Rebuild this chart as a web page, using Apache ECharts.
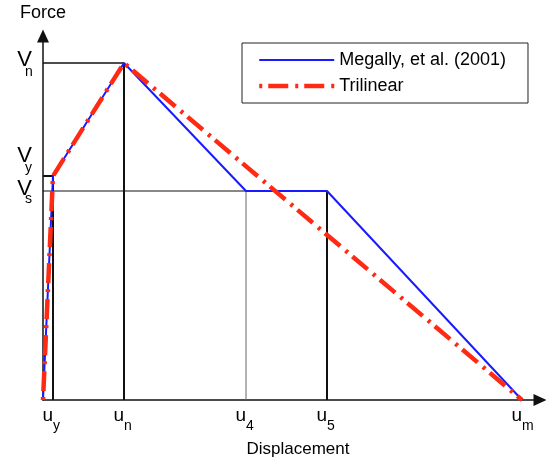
<!DOCTYPE html>
<html>
<head>
<meta charset="utf-8">
<script src="https://cdn.jsdelivr.net/npm/echarts@6/dist/echarts.min.js"></script>
<style>
  html, body { margin: 0; padding: 0; background: #ffffff; }
  #chart { width: 546px; height: 460px; }
</style>
</head>
<body>
<div id="chart"></div>
<script>
// Characteristic displacements (u_y, u_n, u_4, u_5, u_m), arbitrary units
const uNames = ['y', 'n', '4', '5', 'm'];
const uValues = [10, 81, 203, 284, 479];

// Characteristic force levels (V_n, V_y, V_s), arbitrary units
const vNames = ['n', 'y', 's'];
const vValues = [337, 224, 209];

// Megally et al. (2001) force-displacement backbone
const megallyX = [0, 10, 81, 203, 284, 479];
const megallyY = [0, 224, 337, 209, 209, 0];

// Trilinear idealisation of the same envelope
const trilinearX = [0, 10, 81, 479];
const trilinearY = [0, 224, 337, 0];

// Axis extents
const xMax = 497;
const yMax = 364;

const FONT = '"Liberation Sans", Arial, Helvetica, sans-serif';

const zip = (xs, ys) => xs.map((x, i) => [x, ys[i]]);

const [uy, un, u4, u5, um] = uValues;
const [Vn, Vy, Vs] = vValues;

// Black construction lines marking the characteristic points
function guide(points, width, color) {
  return {
    type: 'line',
    data: points,
    symbol: 'none',
    silent: true,
    animation: false,
    z: 1,
    lineStyle: { color: color || '#111', width: width }
  };
}

const guides = [
  guide([[0, Vy], [uy, Vy], [uy, 0]], 2),
  guide([[0, Vn], [un, Vn]], 1.5),
  guide([[un, Vn], [un, 0]], 2),
  guide([[0, Vs], [u5, Vs]], 1),
  guide([[u4, Vs], [u4, 0]], 1, '#666'),
  guide([[u5, Vs], [u5, 0]], 2)
];

// Vertical shifts for the force labels so that V_y clears V_s
const vMainRich = {
  v0: { fontSize: 22, fontFamily: FONT, color: '#000', padding: [0, 0, 6, 0] },
  v1: { fontSize: 22, fontFamily: FONT, color: '#000', padding: [0, 0, 41, 0] },
  v2: { fontSize: 22, fontFamily: FONT, color: '#000', padding: [0, 0, 4, 0] }
};
const vSubRich = {
  s0: { fontSize: 14, fontFamily: FONT, color: '#000', padding: [18, 0, 0, 0] },
  s1: { fontSize: 14, fontFamily: FONT, color: '#000', padding: [0, 0, 16, 0] },
  s2: { fontSize: 14, fontFamily: FONT, color: '#000', padding: [17, 0, 0, 0] }
};

const arrowLine = {
  show: true,
  symbol: ['none', 'triangle'],
  symbolSize: [12, 13],
  lineStyle: { color: '#111', width: 1.5 }
};

const option = {
  animation: false,
  backgroundColor: '#ffffff',
  textStyle: { fontFamily: FONT },
  grid: { left: 43, right: 6, top: 36, bottom: 60, containLabel: false, outerBoundsMode: 'none' },
  legend: {
    data: ['Megally, et al. (2001)', 'Trilinear'],
    orient: 'vertical',
    left: 242,
    top: 43,
    borderColor: '#222',
    borderWidth: 1,
    padding: [7, 22, 7, 15],
    itemWidth: 75,
    itemHeight: 14,
    itemGap: 6,
    selectedMode: false,
    // line-only keys: hide the marker drawn in the middle of each key
    itemStyle: { color: 'rgba(0,0,0,0)', borderColor: 'rgba(0,0,0,0)', borderWidth: 0, opacity: 0 },
    lineStyle: { width: 'inherit' },
    textStyle: { fontSize: 18, color: '#000', fontFamily: FONT, lineHeight: 20 }
  },
  xAxis: [
    {
      type: 'value', min: 0, max: xMax, position: 'bottom',
      axisLine: arrowLine,
      axisTick: { show: false },
      splitLine: { show: false },
      axisLabel: {
        customValues: uValues,
        formatter: () => 'u',
        align: 'right', margin: 6,
        fontSize: 19, color: '#000', fontFamily: FONT
      },
      name: 'Displacement',
      nameLocation: 'middle',
      nameGap: 41,
      nameTextStyle: { fontSize: 17, color: '#000', fontFamily: FONT, padding: [0, 0, 0, 13] }
    },
    {
      type: 'value', min: 0, max: xMax, position: 'bottom', offset: 0,
      axisLine: { show: false },
      axisTick: { show: false },
      splitLine: { show: false },
      axisLabel: {
        customValues: uValues,
        formatter: (v) => uNames[uValues.indexOf(v)],
        align: 'left', margin: 19,
        fontSize: 14, color: '#000', fontFamily: FONT
      }
    }
  ],
  yAxis: [
    {
      type: 'value', min: 0, max: yMax, position: 'left',
      axisLine: arrowLine,
      axisTick: { show: false },
      splitLine: { show: false },
      axisLabel: {
        customValues: vValues,
        formatter: (v) => '{v' + vValues.indexOf(v) + '|V}',
        margin: 11,
        rich: vMainRich
      },
      name: 'Force',
      nameLocation: 'end',
      nameGap: 14,
      nameTextStyle: { fontSize: 18, color: '#000', fontFamily: FONT }
    },
    {
      type: 'value', min: 0, max: yMax, position: 'left', offset: 0,
      axisLine: { show: false },
      axisTick: { show: false },
      splitLine: { show: false },
      axisLabel: {
        customValues: vValues,
        formatter: (v) => {
          const i = vValues.indexOf(v);
          return '{s' + i + '|' + vNames[i] + '}';
        },
        align: 'left', margin: 18,
        rich: vSubRich
      }
    }
  ],
  series: guides.concat([
    {
      name: 'Megally, et al. (2001)',
      type: 'line',
      data: zip(megallyX, megallyY),
      symbol: 'none',
      z: 3,
      color: '#1a1aff',
      lineStyle: { color: '#1a1aff', width: 2 }
    },
    {
      name: 'Trilinear',
      type: 'line',
      data: zip(trilinearX, trilinearY),
      symbol: 'none',
      z: 4,
      color: '#ff2a14',
      lineStyle: { color: '#ff2a14', width: 4.5, type: [20, 7, 3, 6], dashOffset: 27, cap: 'butt' }
    }
  ])
};

const chart = echarts.init(document.getElementById('chart'), null, { renderer: 'canvas' });
chart.setOption(option);
</script>
</body>
</html>
